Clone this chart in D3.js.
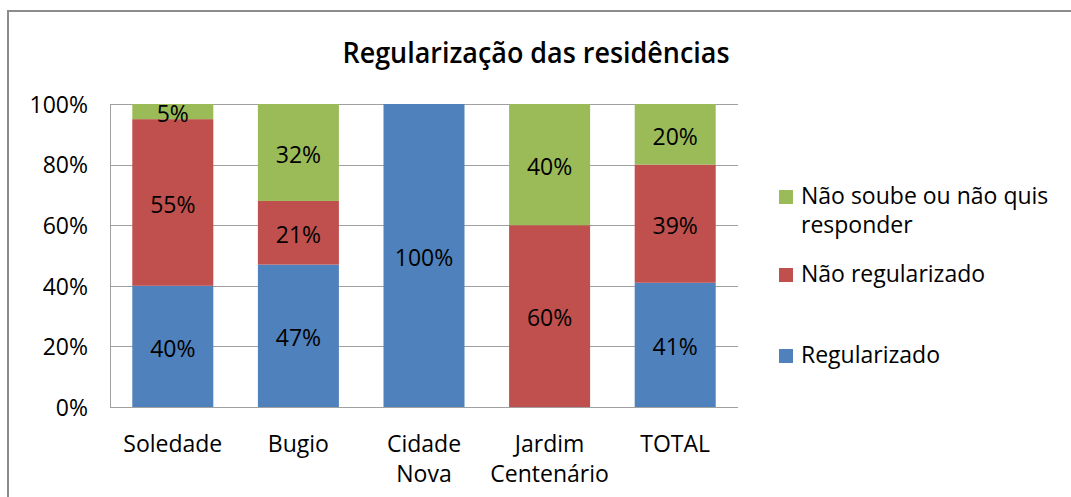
<!DOCTYPE html>
<html>
<head>
<meta charset="utf-8">
<script src="https://cdn.jsdelivr.net/npm/d3@7"></script>
<style>
  html, body { margin: 0; padding: 0; background: #fff; }
  svg text { font-family: "Open Sans", "Noto Sans", sans-serif; fill: #000; }
</style>
</head>
<body>
<svg id="chart" width="1071" height="497"></svg>
<script>
// Neighbourhoods (x-axis categories); "\n" splits a label over two lines
const categories = ["Soledade", "Bugio", "Cidade\nNova", "Jardim\nCentenário", "TOTAL"];

// Share of households (%) in each answer group
const regularizado     = [40, 47, 100, 0, 41];
const naoRegularizado  = [55, 21, 0, 60, 39];
const naoSoube         = [5, 32, 0, 40, 20];

const yTicks = [0, 20, 40, 60, 80, 100];

const seriesNames  = ["Regularizado", "Não regularizado", "Não soube ou não quis responder"];
const seriesColors = ["#4F81BD", "#C0504D", "#9BBB59"];

const svg = d3.select("#chart");

// outer chart frame
svg.append("rect")
  .attr("x", 8).attr("y", 11)
  .attr("width", 1200).attr("height", 700)
  .attr("fill", "#fff")
  .attr("stroke", "#8c8c8c").attr("stroke-width", 2);

// title
svg.append("text")
  .attr("x", 536).attr("y", 63)
  .attr("text-anchor", "middle")
  .attr("font-size", 28).attr("font-weight", 600)
  .attr("textLength", 387).attr("lengthAdjust", "spacingAndGlyphs")
  .text("Regularização das residências");

const plot = { left: 110, right: 738, top: 104, bottom: 407 };

const x = d3.scaleBand()
  .domain(categories)
  .range([plot.left, plot.right])
  .paddingInner(0.355).paddingOuter(0.1775);

const y = d3.scaleLinear().domain([0, 100]).range([plot.bottom, plot.top]);

// gridlines
svg.append("g")
  .selectAll("line")
  .data(yTicks)
  .join("line")
  .attr("x1", plot.left).attr("x2", plot.right)
  .attr("y1", d => Math.round(y(d)) + 0.5).attr("y2", d => Math.round(y(d)) + 0.5)
  .attr("stroke", "#a0a0a0").attr("stroke-width", 1);

// stacked series
const rows = categories.map((c, i) => ({
  cat: c,
  "Regularizado": regularizado[i],
  "Não regularizado": naoRegularizado[i],
  "Não soube ou não quis responder": naoSoube[i]
}));
const stacked = d3.stack().keys(seriesNames)(rows);

const layers = svg.append("g")
  .selectAll("g")
  .data(stacked)
  .join("g")
  .attr("fill", (d, i) => seriesColors[i]);

layers.selectAll("rect")
  .data(d => d)
  .join("rect")
  .attr("x", d => x(d.data.cat))
  .attr("width", x.bandwidth())
  .attr("y", d => y(d[1]))
  .attr("height", d => y(d[0]) - y(d[1]));

// value labels centred in each segment
layers.selectAll("text")
  .data(d => d.filter(s => s[1] - s[0] > 0))
  .join("text")
  .attr("x", d => x(d.data.cat) + x.bandwidth() / 2)
  .attr("y", d => y((d[0] + d[1]) / 2))
  .attr("dy", "0.45em")
  .attr("text-anchor", "middle")
  .attr("font-size", 23)
  .text(d => (d[1] - d[0]) + "%");

// vertical axis line and tick labels
svg.append("line")
  .attr("x1", plot.left + 0.5).attr("x2", plot.left + 0.5)
  .attr("y1", plot.top).attr("y2", plot.bottom)
  .attr("stroke", "#a0a0a0");

svg.append("g")
  .selectAll("text")
  .data(yTicks)
  .join("text")
  .attr("x", 88)
  .attr("y", d => y(d))
  .attr("dy", "0.38em")
  .attr("text-anchor", "end")
  .attr("font-size", 23)
  .text(d => d + "%");

// category labels
const catLabels = svg.append("g")
  .selectAll("text")
  .data(categories)
  .join("text")
  .attr("x", d => x(d) + x.bandwidth() / 2)
  .attr("y", 452)
  .attr("text-anchor", "middle")
  .attr("font-size", 23);
catLabels.each(function(d) {
  const t = d3.select(this);
  d.split("\n").forEach((line, k) => {
    t.append("tspan")
      .attr("x", x(d) + x.bandwidth() / 2)
      .attr("dy", k === 0 ? 0 : 30)
      .text(line);
  });
});

// legend (top entry wraps onto two lines)
const legendItems = [
  { name: seriesNames[2], lines: ["Não soube ou não quis", "responder"], color: seriesColors[2], y: 204 },
  { name: seriesNames[1], lines: ["Não regularizado"], color: seriesColors[1], y: 282 },
  { name: seriesNames[0], lines: ["Regularizado"], color: seriesColors[0], y: 363 }
];
const leg = svg.append("g")
  .selectAll("g")
  .data(legendItems)
  .join("g");
leg.append("rect")
  .attr("x", 779).attr("y", d => d.y - 14)
  .attr("width", 14).attr("height", 14)
  .attr("fill", d => d.color);
leg.append("text")
  .attr("x", 801).attr("y", d => d.y)
  .attr("font-size", 23)
  .each(function(d) {
    const t = d3.select(this);
    d.lines.forEach((line, k) => {
      t.append("tspan").attr("x", 801).attr("dy", k === 0 ? 0 : 29).text(line);
    });
  });
</script>
</body>
</html>
